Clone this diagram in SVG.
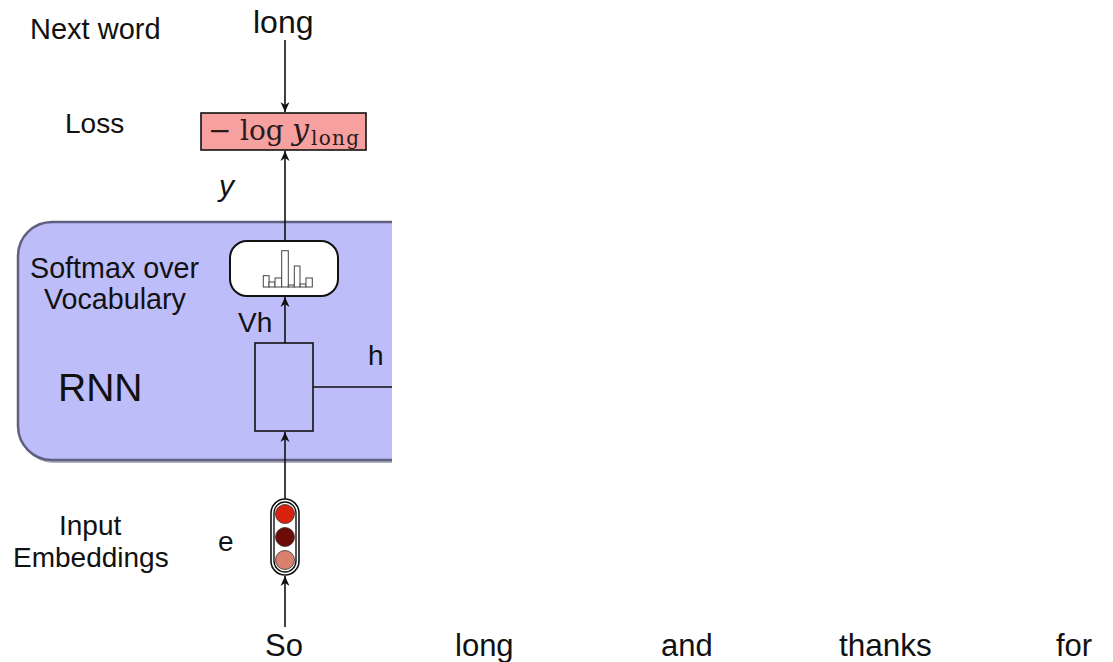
<svg xmlns="http://www.w3.org/2000/svg" width="1113" height="662" viewBox="0 0 1113 662">
<style>
.t{font-family:"Liberation Sans",Arial,sans-serif;fill:#111}
.m{font-family:"DejaVu Serif","Liberation Serif",serif;fill:#2a1a1a}
.ln{stroke:#111;stroke-width:1.6;fill:none}
.bar{fill:#fff;stroke:#444;stroke-width:1}
</style>
<defs>
<marker id="ah" viewBox="0 0 10 10" refX="10" refY="5" markerWidth="11" markerHeight="10" orient="auto" markerUnits="userSpaceOnUse">
<path d="M0,0.5 L10,5 L0,9.5 L3,5 z" fill="#111"/>
</marker>
<clipPath id="cl"><rect x="0" y="0" width="392" height="662"/></clipPath>
</defs>
<rect width="1113" height="662" fill="#fff"/>

<g id="rnn" clip-path="url(#cl)">
<rect x="20" y="225" width="600" height="238" rx="34" fill="#7a7a98" opacity="0.6"/>
<rect x="18" y="222" width="600" height="238" rx="34" fill="#bdbdfa" stroke="#5f5f80" stroke-width="2.5"/>
</g>

<g id="labels">
<text class="t" x="30" y="39" font-size="29">Next word</text>
<text class="t" x="65" y="133" font-size="28">Loss</text>
<text class="t" x="219" y="196" font-size="30" font-style="italic">y</text>
<text class="t" x="30" y="278" font-size="28.7">Softmax over</text>
<text class="t" x="44" y="309" font-size="28.7">Vocabulary</text>
<text class="t" x="58" y="401" font-size="39">RNN</text>
<text class="t" x="238" y="332" font-size="28">Vh</text>
<text class="t" x="368" y="365" font-size="28">h</text>
<text class="t" x="59" y="535" font-size="28">Input</text>
<text class="t" x="13" y="567" font-size="28">Embeddings</text>
<text class="t" x="218" y="551" font-size="28">e</text>
<text class="t" x="253" y="33" font-size="32">long</text>
</g>

<g id="words">
<text class="t" x="265" y="656" font-size="31">So</text>
<text class="t" x="455" y="656" font-size="31">long</text>
<text class="t" x="661" y="656" font-size="31">and</text>
<text class="t" x="839" y="656" font-size="31.5">thanks</text>
<text class="t" x="1056" y="656" font-size="31">for</text>
</g>

<g id="loss">
<rect x="201" y="113" width="165" height="37" fill="#f6a0a0" stroke="#111" stroke-width="1.6"/>
<text class="m" x="208" y="140" font-size="28">−</text>
<text class="m" x="240" y="140" font-size="28">log</text>
<text class="m" x="292" y="140" font-size="30" font-style="italic">y</text>
<text class="m" x="311" y="145" font-size="20" textLength="48">long</text>
</g>

<g id="softmax">
<rect x="230" y="241" width="108" height="55" rx="17" fill="#fff" stroke="#111" stroke-width="2"/>
<rect class="bar" x="263.3" y="275.7" width="5.8" height="11.3"/>
<rect class="bar" x="269" y="282" width="6" height="5"/>
<rect class="bar" x="275" y="278" width="6.7" height="9"/>
<rect class="bar" x="281.7" y="250.7" width="6.6" height="36.3"/>
<rect class="bar" x="288.3" y="285" width="6" height="2"/>
<rect class="bar" x="294.3" y="266" width="5.7" height="21"/>
<rect class="bar" x="300" y="284" width="6" height="3"/>
<rect class="bar" x="306" y="278" width="6.3" height="9"/>
</g>

<g id="cell">
<rect x="255" y="343" width="58" height="88" fill="none" stroke="#111" stroke-width="1.6"/>
</g>

<g id="embedding">
<rect x="271" y="499" width="28" height="76" rx="14" fill="#fff" stroke="#111" stroke-width="1.6"/>
<rect x="274" y="502" width="22" height="70" rx="11" fill="none" stroke="#111" stroke-width="1.4"/>
<circle cx="285" cy="514" r="9.5" fill="#d8220e" stroke="#333" stroke-width="0.8"/>
<circle cx="285" cy="537" r="9.5" fill="#6b0d06" stroke="#333" stroke-width="0.8"/>
<circle cx="285" cy="560" r="9.5" fill="#d9806f" stroke="#333" stroke-width="0.8"/>
</g>

<g id="connectors">
<line class="ln" x1="285" y1="40" x2="285" y2="112" marker-end="url(#ah)"/>
<line class="ln" x1="285" y1="241" x2="285" y2="151" marker-end="url(#ah)"/>
<line class="ln" x1="285" y1="343" x2="285" y2="297" marker-end="url(#ah)"/>
<line class="ln" x1="285" y1="499" x2="285" y2="432" marker-end="url(#ah)"/>
<line class="ln" x1="285" y1="627" x2="285" y2="576" marker-end="url(#ah)"/>
<line class="ln" x1="313" y1="387" x2="392" y2="387"/>
</g>
</svg>
